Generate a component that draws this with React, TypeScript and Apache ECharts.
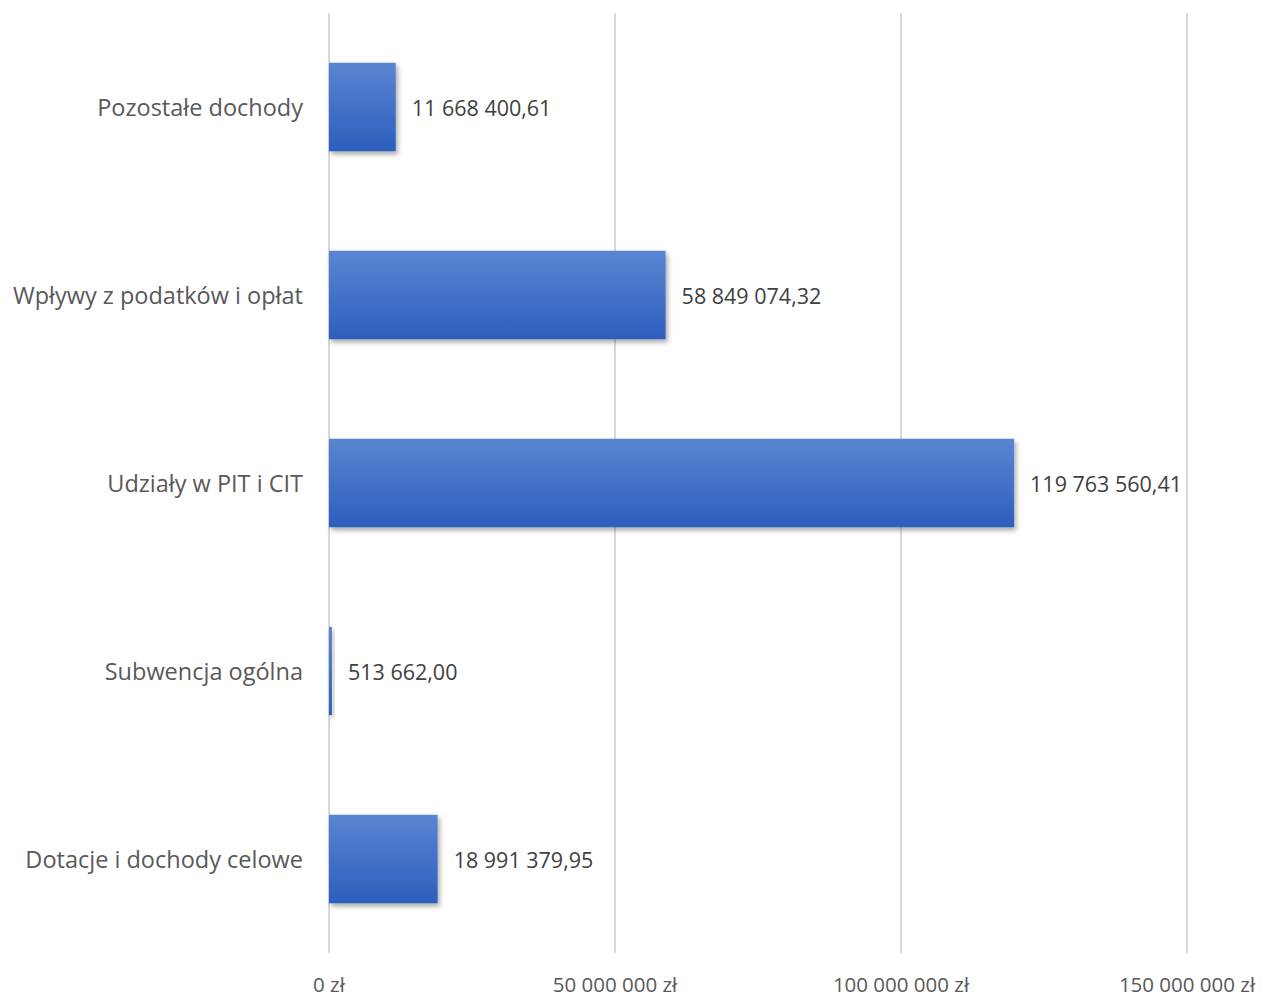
import React, { useEffect, useRef } from "react";
import * as echarts from "echarts";

const categories = [
  "Dotacje i dochody celowe",
  "Subwencja ogólna",
  "Udziały w PIT i CIT",
  "Wpływy z podatków i opłat",
  "Pozostałe dochody",
];
const values = [18991379.95, 513662.0, 119763560.41, 58849074.32, 11668400.61];
const xTicks = [0, 50000000, 100000000, 150000000];

function groupThousands(s: string): string {
  return s.replace(/\B(?=(\d{3})+(?!\d))/g, " ");
}
function fmtValue(v: number): string {
  const [i, d] = v.toFixed(2).split(".");
  return groupThousands(i) + "," + d;
}
function fmtTick(v: number): string {
  return groupThousands(String(Math.round(v))) + " zł";
}

const FONT = "'Open Sans', Lato, sans-serif";

export default function App() {
  const ref = useRef<HTMLDivElement>(null);
  useEffect(() => {
    document.body.style.margin = "0";
    const chart = echarts.init(ref.current!, null, { renderer: "svg" });
    chart.setOption({
      animation: false,
      backgroundColor: "#ffffff",
      grid: { left: 329, right: 86, top: 13, bottom: 44, containLabel: false },
      xAxis: {
        type: "value",
        min: 0,
        max: xTicks[xTicks.length - 1],
        interval: 50000000,
        axisLine: { show: false },
        axisTick: { show: false },
        splitLine: { show: true, lineStyle: { color: "#d9d9d9", width: 2 } },
        axisLabel: {
          formatter: (v: number) => fmtTick(v),
          color: "#595959",
          fontSize: 20.5,
          fontFamily: FONT,
          margin: 20,
        },
      },
      yAxis: {
        type: "category",
        data: categories,
        axisLine: { show: false },
        axisTick: { show: false },
        splitLine: { show: false },
        axisLabel: {
          color: "#595959",
          fontSize: 23.5,
          fontFamily: FONT,
          margin: 26,
        },
      },
      series: [
        {
          type: "bar",
          data: values,
          barWidth: "47%",
          itemStyle: {
            color: new echarts.graphic.LinearGradient(0, 0, 0, 1, [
              { offset: 0, color: "#5b85d2" },
              { offset: 1, color: "#2c5ebd" },
            ]),
            shadowBlur: 5,
            shadowOffsetX: 2,
            shadowOffsetY: 3,
            shadowColor: "rgba(0,0,0,0.35)",
          },
          label: {
            show: true,
            position: "right",
            distance: 16,
            formatter: (p: any) => fmtValue(p.value),
            color: "#404040",
            fontSize: 21.5,
            fontFamily: FONT,
          },
        },
      ],
    });
    return () => chart.dispose();
  }, []);
  return (
    <div
      ref={ref}
      style={{ position: "absolute", left: 0, top: 0, width: 1273, height: 997 }}
    />
  );
}
